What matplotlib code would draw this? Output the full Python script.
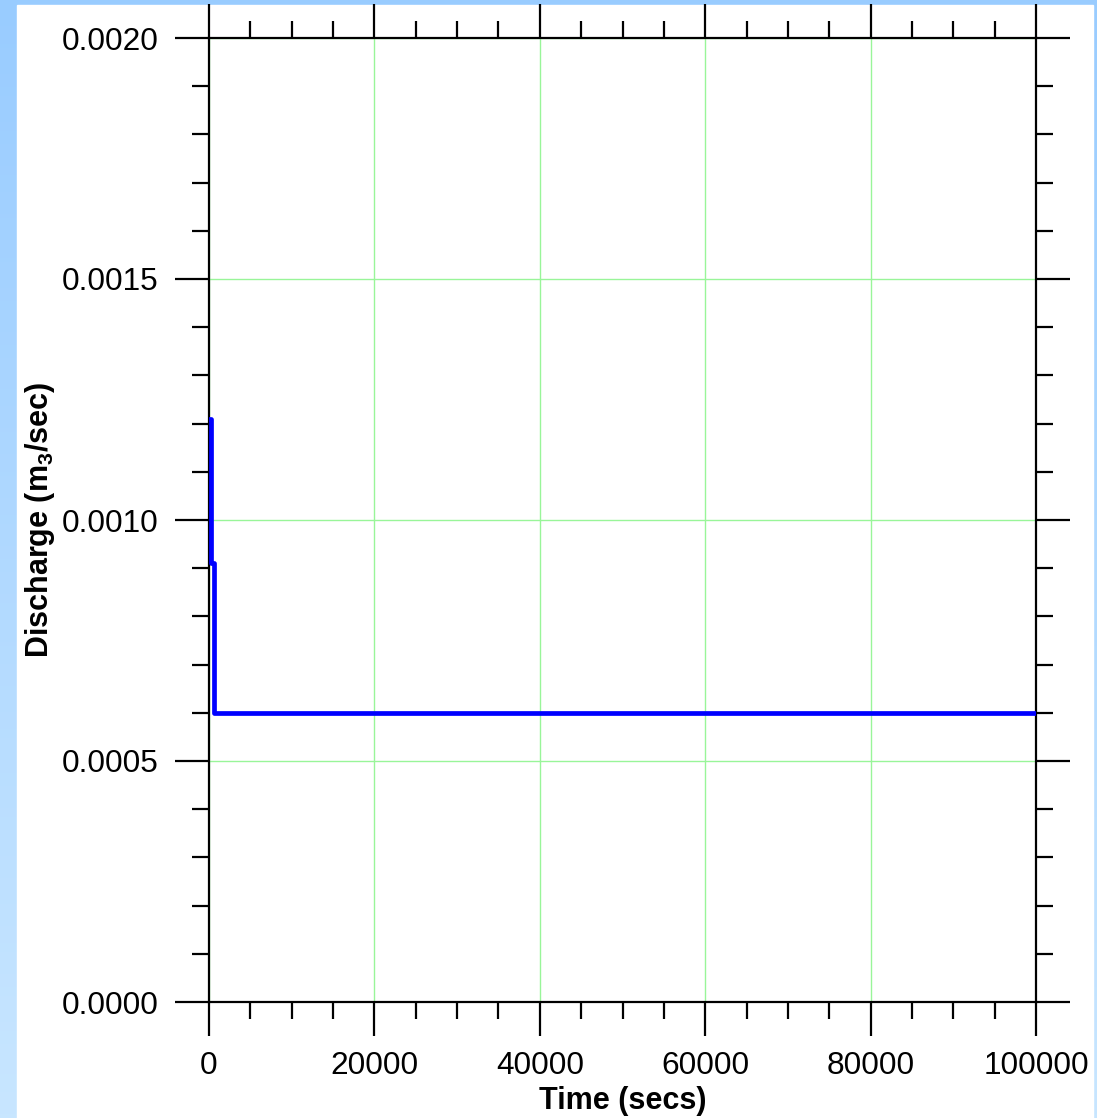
import numpy as np
import matplotlib
matplotlib.use("Agg")
import matplotlib.pyplot as plt
from matplotlib.ticker import MultipleLocator, FormatStrFormatter

# Data (step curve)
time_secs = [0, 300, 600, 100000]
discharge = [0.00121, 0.00091, 0.0006, 0.0006]

plt.rcParams["font.family"] = ["Liberation Sans", "DejaVu Sans"]
plt.rcParams["mathtext.fontset"] = "custom"
plt.rcParams["mathtext.rm"] = "Liberation Sans:bold"
plt.rcParams["mathtext.bf"] = "Liberation Sans:bold"

W, H = 1097, 1118
fig = plt.figure(figsize=(W / 100, H / 100), dpi=100)

# Blue gradient frame behind a white panel
bg = fig.add_axes([0, 0, 1, 1], zorder=-10)
grad = np.linspace(0, 1, 256).reshape(-1, 1)
top_c = np.array([153, 204, 255]) / 255
bot_c = np.array([200, 230, 255]) / 255
img = top_c[None, None, :] * (1 - grad[:, :, None]) + bot_c[None, None, :] * grad[:, :, None]
bg.imshow(img, aspect="auto", extent=[0, 1, 0, 1], origin="upper")
bg.add_patch(plt.Rectangle((17 / W, 0), (1093 - 17) / W, 1 - 5 / H, color="white"))
bg.set_xlim(0, 1)
bg.set_ylim(0, 1)
bg.axis("off")

ax = fig.add_axes([209 / W, (H - 1002) / H, (1036 - 209) / W, (1002 - 38) / H])
ax.set_facecolor("white")

ax.grid(True, which="major", color="#99f599", linewidth=1.0)
ax.set_axisbelow(True)

ax.step(time_secs, discharge, where="post", color="#0000ff", linewidth=3.4, zorder=3)

ax.set_xlim(0, 100000)
ax.set_ylim(0, 0.002)
ax.xaxis.set_major_locator(MultipleLocator(20000))
ax.xaxis.set_minor_locator(MultipleLocator(5000))
ax.yaxis.set_major_locator(MultipleLocator(0.0005))
ax.yaxis.set_minor_locator(MultipleLocator(0.0001))
ax.yaxis.set_major_formatter(FormatStrFormatter("%.4f"))

ax.tick_params(which="both", direction="out", top=True, right=True,
               labeltop=False, labelright=False, width=1.6, colors="black")
ax.tick_params(which="major", length=24.5, labelsize=22.8)
ax.tick_params(which="minor", length=12)
ax.tick_params(axis="y", which="major", pad=12)
ax.tick_params(axis="x", which="major", pad=11)
for s in ax.spines.values():
    s.set_linewidth(1.6)

ax.set_xlabel("Time (secs)", fontsize=22, fontweight="bold")
ax.set_ylabel(r"Discharge (m$_3$/sec)", fontsize=22, fontweight="bold")
ax.xaxis.set_label_coords(0.5, -0.087)
ax.yaxis.set_label_coords(-0.184, 0.5)

fig.savefig("out.png", dpi=100)
